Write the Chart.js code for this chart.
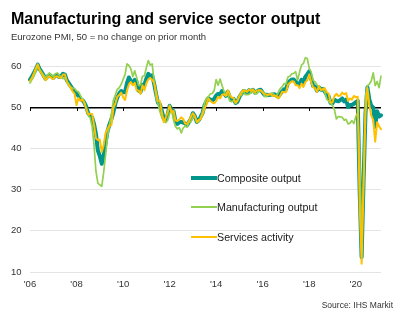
<!DOCTYPE html>
<html>
<head>
<meta charset="utf-8">
<script src="https://cdn.jsdelivr.net/npm/chart.js@4"></script>
<style>
  html, body { margin: 0; padding: 0; background: #fff; }
  #wrap { position: relative; width: 403px; height: 322px; overflow: hidden;
          font-family: "Liberation Sans", Arial, sans-serif; }
  #c { position: absolute; left: 0; top: 0; }
  .t { position: absolute; white-space: nowrap; }
  #title { left: 11px; top: 10.5px; font-size: 16px; line-height: 16px; font-weight: bold; color: #000; }
  #sub { left: 11px; top: 31.7px; font-size: 9.5px; line-height: 10px; color: #333; }
  #src { right: 10px; top: 301px; font-size: 8.5px; line-height: 9px; color: #333; }
  .sw { position: absolute; left: 191px; width: 26px; }
  .lt { position: absolute; left: 217px; font-size: 10.7px; line-height: 12px; color: #1a1a1a; white-space: nowrap; }
</style>
</head>
<body>
<div id="wrap">
  <canvas id="c" width="403" height="322"></canvas>
  <div class="t" id="title">Manufacturing and service sector output</div>
  <div class="t" id="sub">Eurozone PMI, 50 = no change on prior month</div>
  <div class="t" id="src">Source: IHS Markit</div>
  <div id="legend"></div>
</div>
<script>
// Monthly categories, Jan 2006 - Feb 2021
const months = [];
for (let yr = 2006; yr <= 2021; yr++) {
  for (let mo = 1; mo <= 12; mo++) {
    if (yr === 2021 && mo > 2) break;
    months.push(yr + '-' + String(mo).padStart(2, '0'));
  }
}
const tickLabels = ["'06", "'08", "'10", "'12", "'14", "'16", "'18", "'20"];
const yTicks = [10, 20, 30, 40, 50, 60];

const composite = [
  56.8, 57.5, 58.4, 59.3, 60.4, 59.3, 58.6, 57.8, 57.0, 57.5, 57.9, 57.6,
  57.2, 57.7, 57.9, 57.4, 57.6, 58.2, 58.0, 56.6, 55.9, 55.2, 54.5, 54.0,
  53.2, 52.9, 52.1, 51.8, 51.2, 50.2, 48.6, 48.0, 47.6, 46.0, 43.6, 39.5,
  38.2, 36.3, 38.4, 41.5, 44.3, 45.9, 47.2, 48.8, 50.9, 52.4, 53.4, 54.0,
  53.7, 53.7, 55.9, 57.3, 56.4, 56.0, 56.7, 56.2, 54.1, 53.8, 55.5, 55.5,
  57.0, 58.2, 57.6, 57.8, 55.8, 53.3, 51.1, 50.7, 49.1, 47.2, 47.0, 48.3,
  50.4, 49.3, 49.1, 46.7, 46.0, 46.4, 46.5, 46.3, 46.1, 45.7, 46.5, 47.2,
  48.6, 47.9, 46.5, 46.9, 47.7, 48.7, 50.5, 51.5, 52.2, 51.9, 51.7, 52.1,
  52.9, 53.3, 53.1, 54.0, 53.5, 52.8, 53.8, 52.5, 52.0, 52.1, 51.1, 51.4,
  52.6, 53.3, 54.0, 53.9, 53.6, 54.2, 53.9, 54.3, 53.6, 53.9, 54.2, 54.3,
  53.6, 53.0, 53.1, 53.0, 53.1, 53.1, 53.2, 52.9, 52.6, 53.3, 53.9, 54.4,
  54.4, 56.0, 56.4, 56.8, 56.8, 56.3, 55.7, 55.7, 56.7, 56.0, 57.5, 58.1,
  58.8, 57.1, 55.2, 55.1, 54.1, 54.9, 54.3, 54.5, 53.9, 53.1, 52.7, 51.1,
  51.0, 51.9, 51.6, 51.5, 51.8, 52.2, 51.5, 51.9, 50.1, 50.6, 50.6, 50.9,
  51.3, 51.6, 29.7, 13.6, 31.9, 48.5, 54.9, 51.9, 50.4, 50.0, 45.3, 49.1,
  47.8, 48.1
];

const manufacturing = [
  55.9, 56.8, 57.6, 58.8, 59.8, 59.3, 58.5, 57.9, 57.3, 57.8, 58.4, 57.9,
  57.6, 58.2, 58.4, 57.9, 57.4, 57.0, 57.3, 56.3, 55.2, 55.0, 54.7, 54.6,
  54.0, 53.8, 52.9, 52.0, 51.4, 49.8, 48.2, 47.5, 45.5, 41.0, 34.5, 31.6,
  31.2, 30.8, 34.3, 38.5, 43.0, 45.8, 48.5, 51.8, 53.0, 54.4, 54.8, 55.6,
  56.8, 58.0, 60.6, 60.2, 59.4, 57.5, 58.9, 57.3, 55.4, 55.6, 57.6, 57.7,
  59.7, 61.4, 60.3, 60.6, 56.3, 52.3, 50.8, 49.0, 47.5, 47.1, 46.3, 46.9,
  48.5, 49.3, 47.0, 45.4, 44.8, 45.1, 43.8, 45.0, 45.5, 45.2, 46.5, 46.5,
  47.6, 47.9, 46.6, 46.5, 47.6, 49.0, 51.0, 52.3, 52.6, 53.3, 53.4, 54.2,
  56.8, 55.4, 56.9, 55.4, 54.0, 53.0, 53.2, 51.6, 51.4, 51.7, 51.0, 51.8,
  53.0, 52.9, 54.2, 53.1, 53.1, 53.2, 53.7, 53.8, 53.3, 53.3, 54.0, 54.1,
  53.9, 52.7, 52.6, 53.2, 53.2, 53.5, 53.0, 52.6, 53.7, 54.6, 55.0, 55.8,
  55.7, 57.4, 57.6, 58.2, 58.3, 58.7, 56.6, 58.6, 60.3, 60.7, 62.1, 61.9,
  59.5, 58.6, 56.6, 56.2, 55.5, 55.0, 54.2, 54.6, 53.7, 52.0, 51.6, 51.0,
  50.5, 49.4, 47.2, 47.8, 47.7, 47.6, 46.9, 47.1, 46.0, 46.2, 46.8, 46.1,
  47.8, 48.7, 38.5, 18.1, 33.6, 52.8, 55.3, 55.7, 56.5, 58.4, 55.3, 56.3,
  54.8, 57.6
];

const services = [
  56.5, 57.2, 58.3, 59.5, 60.5, 59.0, 58.3, 57.4, 56.6, 57.2, 57.6, 57.2,
  56.9, 57.5, 57.6, 57.2, 57.3, 58.0, 58.0, 56.3, 55.6, 54.8, 53.9, 53.3,
  50.6, 52.3, 51.6, 52.0, 51.1, 49.7, 48.3, 48.5, 48.4, 45.8, 42.5, 42.1,
  42.2, 39.2, 40.9, 43.8, 44.8, 45.6, 45.7, 49.9, 50.9, 52.6, 53.0, 53.6,
  52.5, 51.8, 54.1, 55.6, 56.2, 55.4, 56.0, 54.1, 54.1, 53.3, 55.4, 54.2,
  55.9, 56.8, 57.2, 56.7, 56.0, 53.7, 51.6, 51.5, 48.8, 46.4, 47.5, 48.8,
  50.5, 48.8, 49.2, 46.9, 46.7, 47.1, 47.6, 47.2, 46.1, 46.0, 46.7, 47.8,
  48.6, 47.9, 46.4, 47.0, 47.2, 48.3, 49.8, 50.7, 52.2, 51.6, 51.2, 51.0,
  51.6, 52.6, 52.2, 53.1, 53.2, 52.8, 54.2, 53.1, 52.4, 52.3, 51.1, 51.6,
  52.7, 53.7, 54.2, 54.1, 53.8, 54.4, 54.0, 54.4, 53.7, 54.1, 54.2, 54.2,
  53.6, 53.3, 53.1, 53.1, 53.3, 52.8, 52.9, 52.8, 52.2, 52.8, 53.8, 53.7,
  53.7, 55.5, 56.0, 56.4, 56.3, 55.4, 55.4, 54.7, 55.8, 55.0, 56.2, 56.6,
  58.0, 56.2, 54.9, 54.7, 53.8, 55.2, 54.2, 54.4, 54.7, 53.7, 53.4, 51.2,
  51.2, 52.8, 53.3, 52.8, 52.9, 53.6, 53.2, 53.5, 51.6, 52.2, 51.9, 52.8,
  52.5, 52.6, 26.4, 12.0, 30.5, 48.3, 54.7, 50.5, 48.0, 46.9, 41.7, 46.4,
  45.4, 44.7
];

const series = [
  { label: 'Composite output',     data: composite,     color: '#00968C', width: 4,   order: 3, legendY: 177.5 },
  { label: 'Manufacturing output', data: manufacturing, color: '#92D050', width: 1.7, order: 2, legendY: 206.8 },
  { label: 'Services activity',    data: services,      color: '#FFC000', width: 2,   order: 1, legendY: 236.5 }
];

// Legend block inside the plot
const legendEl = document.getElementById('legend');
series.forEach(s => {
  const sw = document.createElement('div');
  sw.className = 'sw';
  sw.style.top = (s.legendY - s.width / 2) + 'px';
  sw.style.height = s.width + 'px';
  sw.style.background = s.color;
  legendEl.appendChild(sw);
  const lt = document.createElement('div');
  lt.className = 'lt';
  lt.style.top = (s.legendY - 6) + 'px';
  lt.textContent = s.label;
  legendEl.appendChild(lt);
});

// Short tick marks hanging from the 50 line at each year label
const fiftyTicks = {
  id: 'fiftyTicks',
  beforeDatasetsDraw(chart) {
    const { ctx, scales: { x, y } } = chart;
    const y50 = y.getPixelForValue(50);
    ctx.save();
    ctx.strokeStyle = '#000';
    ctx.lineWidth = 1;
    tickLabels.forEach((_, i) => {
      const px = Math.round(x.getPixelForValue(i * 24)) + 0.5;
      ctx.beginPath();
      ctx.moveTo(px, y50);
      ctx.lineTo(px, y50 + 3.5);
      ctx.stroke();
    });
    ctx.restore();
  }
};

const tickFont = { family: '"Liberation Sans", Arial, sans-serif', size: 9.5 };

new Chart(document.getElementById('c'), {
  type: 'line',
  data: {
    labels: months,
    datasets: series.map(s => ({
      label: s.label,
      data: s.data,
      borderColor: s.color,
      backgroundColor: s.color,
      borderWidth: s.width,
      order: s.order,
      pointRadius: 0,
      tension: 0,
      borderJoinStyle: 'round',
      borderCapStyle: 'round',
      fill: false
    }))
  },
  options: {
    responsive: false,
    animation: false,
    devicePixelRatio: 1,
    layout: { padding: { top: 54, right: 22, left: 0, bottom: 0 } },
    plugins: { legend: { display: false }, tooltip: { enabled: false } },
    scales: {
      x: {
        type: 'category',
        offset: false,
        grid: { display: false, drawTicks: false, tickLength: 0 },
        border: { display: false },
        afterBuildTicks: sc => { sc.ticks = tickLabels.map((_, i) => ({ value: i * 24 })); },
        afterFit: sc => { sc.height = 50; },
        ticks: {
          autoSkip: false, maxRotation: 0, minRotation: 0, padding: 7,
          color: '#333', font: tickFont,
          callback: (v, i) => tickLabels[i]
        }
      },
      y: {
        min: 10, max: 63,
        afterBuildTicks: sc => { sc.ticks = yTicks.map(v => ({ value: v })); },
        afterFit: sc => { sc.width = 30; },
        border: { display: false },
        grid: {
          drawTicks: false,
          color: c => (c.tick && c.tick.value === 50) ? '#000' : '#e4e4e4',
          lineWidth: c => (c.tick && c.tick.value === 50) ? 1.5 : 1
        },
        ticks: { padding: 8.5, color: '#333', font: tickFont }
      }
    }
  },
  plugins: [fiftyTicks]
});
</script>
</body>
</html>
